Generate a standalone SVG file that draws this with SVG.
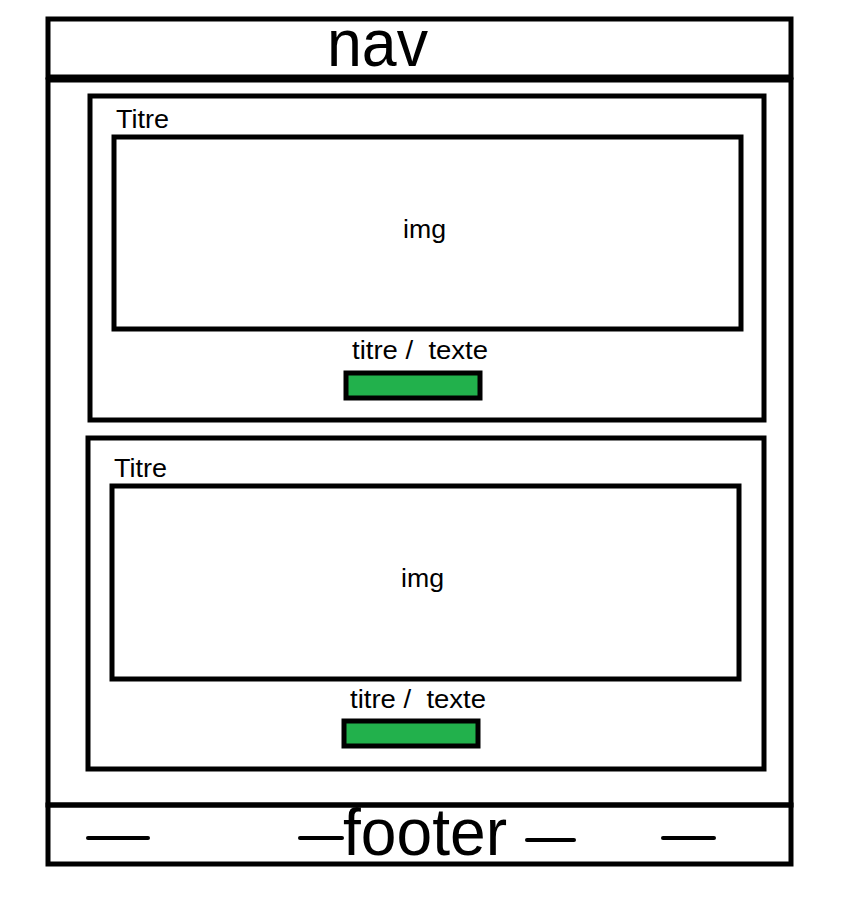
<svg xmlns="http://www.w3.org/2000/svg" width="856" height="902" viewBox="0 0 856 902">
<style>
.box{fill:none;stroke:#000;stroke-width:5}
.btn{fill:#22b14c;stroke:#000;stroke-width:5}
.t{font-family:"Liberation Sans",Arial,sans-serif;fill:#000;white-space:pre}
.dash{stroke:#000;stroke-width:4;stroke-linecap:round}
</style>
<rect width="856" height="902" fill="#fff"/>
<g id="nav">
<rect class="box" x="48" y="19" width="743" height="58"/>
<text class="t" x="327" y="66" font-size="66" textLength="101" lengthAdjust="spacingAndGlyphs">nav</text>
</g>
<g id="main">
<rect class="box" x="48" y="80" width="743" height="725"/>
</g>
<g id="article1">
<rect class="box" x="90" y="96" width="674" height="324"/>
<text class="t" x="116" y="128" font-size="26" textLength="53" lengthAdjust="spacingAndGlyphs">Titre</text>
<rect class="box" x="114" y="137" width="627" height="192"/>
<text class="t" x="403" y="238" font-size="26" textLength="43" lengthAdjust="spacingAndGlyphs">img</text>
<text class="t" x="352" y="359" font-size="26" textLength="136" lengthAdjust="spacingAndGlyphs" xml:space="preserve">titre /  texte</text>
<rect class="btn" x="346" y="373" width="134" height="25"/>
</g>
<g id="article2">
<rect class="box" x="88" y="438" width="676" height="331"/>
<text class="t" x="114" y="477" font-size="26" textLength="53" lengthAdjust="spacingAndGlyphs">Titre</text>
<rect class="box" x="112" y="486" width="627" height="193"/>
<text class="t" x="401" y="587" font-size="26" textLength="43" lengthAdjust="spacingAndGlyphs">img</text>
<text class="t" x="350" y="708" font-size="26" textLength="136" lengthAdjust="spacingAndGlyphs" xml:space="preserve">titre /  texte</text>
<rect class="btn" x="344" y="721" width="134" height="25"/>
</g>
<g id="footer">
<rect class="box" x="48" y="805" width="743" height="59"/>
<text class="t" x="343" y="855" font-size="66" textLength="164" lengthAdjust="spacingAndGlyphs">footer</text>
</g>
<g id="connectors">
<line class="dash" x1="88" y1="838" x2="148" y2="838"/>
<line class="dash" x1="300" y1="838" x2="342" y2="838"/>
<line class="dash" x1="527" y1="840" x2="574" y2="840"/>
<line class="dash" x1="663" y1="838" x2="714" y2="838"/>
</g>
</svg>
